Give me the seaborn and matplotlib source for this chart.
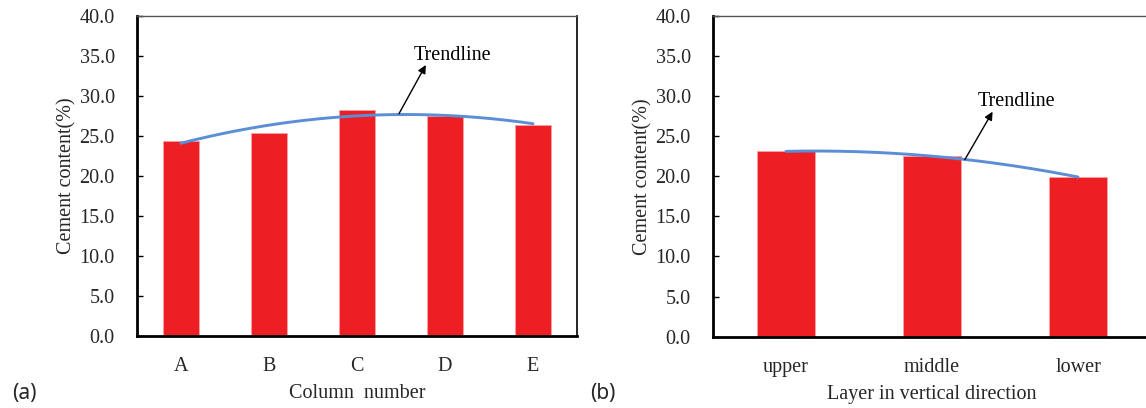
import numpy as np
import pandas as pd
import matplotlib
matplotlib.use("Agg")
import matplotlib.pyplot as plt
import seaborn as sns

# Cement content by column (a) and by layer (b)
columns = ["A", "B", "C", "D", "E"]
column_content = [24.4, 25.4, 28.2, 27.5, 26.4]

layers = ["upper", "middle", "lower"]
layer_content = [23.1, 22.5, 19.9]

y_ticks = [0, 5, 10, 15, 20, 25, 30, 35, 40]

BAR_RED = "#ED1F24"
TREND_BLUE = "#5B8ED6"
FS = 14.5

sns.set_theme(style="white")
plt.rcParams["font.family"] = ["Liberation Serif", "DejaVu Serif"]

W, H = 1146, 408
fig = plt.figure(figsize=(W / 100, H / 100), dpi=100)
ax_a = fig.add_axes([0.1195, 0.1772, 0.384, 0.7843])
ax_b = fig.add_axes([0.6222, 0.1747, 0.3822, 0.7868])

panels = [
    (ax_a, columns, column_content, "Column  number"),
    (ax_b, layers, layer_content, "Layer in vertical direction"),
]

for ax, cats, vals, xlabel in panels:
    df = pd.DataFrame({"cat": cats, "val": vals})
    sns.barplot(data=df, x="cat", y="val", order=cats, color=BAR_RED,
                saturation=1, width=0.4, edgecolor="#F6A0A3", linewidth=0.6,
                ax=ax, zorder=2)

    # second-order polynomial trendline through the bar values
    idx = np.arange(len(cats))
    coef = np.polyfit(idx, vals, 2)
    xs = np.linspace(0, len(cats) - 1, 200)
    trend = pd.DataFrame({"x": xs, "y": np.polyval(coef, xs)})
    sns.lineplot(data=trend, x="x", y="y", color=TREND_BLUE, linewidth=2.1,
                 ax=ax, zorder=3)

    ax.set_xlim(-0.5, len(cats) - 0.5)
    ax.set_ylim(0, 40)
    ax.set_yticks(y_ticks)
    ax.set_yticklabels([f"{t:.1f}" for t in y_ticks])
    ax.set_xlabel(xlabel, fontsize=FS, labelpad=6)
    ax.set_ylabel("Cement content(%)", fontsize=FS, labelpad=2)
    ax.tick_params(axis="both", labelsize=FS, direction="in", length=4,
                   width=1, color="black", left=True, bottom=True)
    ax.tick_params(axis="y", pad=16)
    ax.tick_params(axis="x", pad=15)

    for side in ("left", "bottom"):
        ax.spines[side].set_linewidth(2.0)
        ax.spines[side].set_color("black")
    ax.spines["right"].set_linewidth(1.2)
    ax.spines["right"].set_color("black")
    ax.spines["top"].set_linewidth(1.0)
    ax.spines["top"].set_color("#555555")


def data_xy(ax, px, py):
    """Convert canvas pixel coordinates (origin top-left) to data coordinates."""
    return ax.transData.inverted().transform((px, H - py))


# Trendline callouts, placed in canvas pixel space
fig.canvas.draw()
callouts = [
    (ax_a, (399, 113.7), (425.8, 65), (452, 55)),
    (ax_b, (964.8, 159.7), (992.6, 111.7), (1017, 102)),
]
for ax, tail, head, label in callouts:
    t = data_xy(ax, *tail)
    h = data_xy(ax, *head)
    lab = data_xy(ax, *label)
    ax.annotate("", xy=h, xytext=t,
                arrowprops=dict(arrowstyle="-|>", color="black", lw=1.0,
                                mutation_scale=12, shrinkA=0, shrinkB=0),
                zorder=4)
    ax.text(lab[0], lab[1], "Trendline", fontsize=FS, ha="center",
            va="center", color="black", zorder=4)

# Panel letters
for px, letter in [(24, "(a)"), (603, "(b)")]:
    fig.text(px / W, 1 - 393 / H, letter, fontsize=15, ha="center",
             va="center", family=["Noto Sans", "DejaVu Sans"])

fig.savefig("out.png", dpi=100)
